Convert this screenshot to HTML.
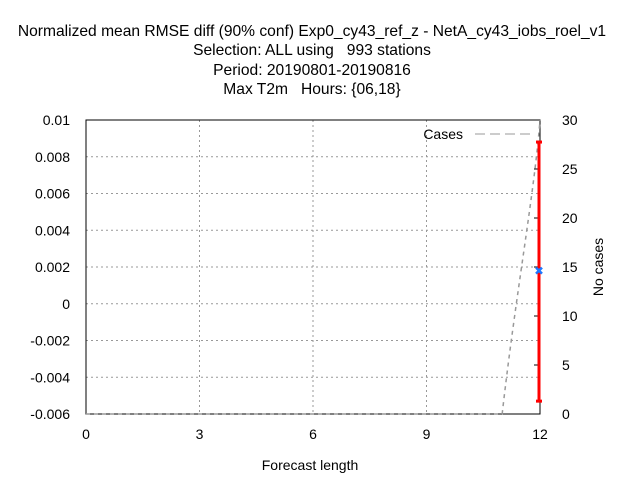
<!DOCTYPE html>
<html><head><meta charset="utf-8"><style>
body{margin:0;background:#fff;}
svg text{font-family:"Liberation Sans",sans-serif;font-size:14px;fill:#000;white-space:pre;}
#titles text{font-size:15.6px;}
</style></head><body>
<svg width="640" height="480">
<g id="titles" text-anchor="middle">
<text x="312" y="36">Normalized mean RMSE diff (90% conf) Exp0_cy43_ref_z - NetA_cy43_iobs_roel_v1</text>
<text x="312" y="55">Selection: ALL using   993 stations</text>
<text x="312" y="75">Period: 20190801-20190816</text>
<text x="312" y="94">Max T2m   Hours: {06,18}</text>
</g>
<g id="grid"></g>
<rect x="86" y="120" width="454" height="294" fill="none" stroke="#000"/>
<g id="axes"></g>
<g id="series"></g>
<text x="310" y="470" text-anchor="middle">Forecast length</text>
<text transform="translate(603,267) rotate(-90)" text-anchor="middle">No cases</text>
<text x="463" y="139" text-anchor="end">Cases</text>
<line x1="475" y1="134" x2="530" y2="134" stroke="#999" stroke-dasharray="10,5"/>
</svg>
<script>
const xTicks=[0,3,6,9,12];
const yTicks=[-0.006,-0.004,-0.002,0,0.002,0.004,0.006,0.008,0.01];
const yTickLabels=["-0.006","-0.004","-0.002","0","0.002","0.004","0.006","0.008","0.01"];
const y2Ticks=[0,5,10,15,20,25,30];
const caseHours=[0,1,2,3,4,5,6,7,8,9,10,11,12];
const caseCounts=[0,0,0,0,0,0,0,0,0,0,0,0,30];
const errHours=[12];
const errMean=[0.0018];
const errLow=[-0.0053];
const errHigh=[0.0088];
const X0=86,X1=540,Y0=414,Y1=120;
const sx=v=>X0+v/12*(X1-X0);
const sy=v=>Y0-(v+0.006)/0.016*(Y0-Y1);
const sy2=v=>Y0-v/30*(Y0-Y1);
const NS="http://www.w3.org/2000/svg";
function mk(tag,attrs,parent){const e=document.createElementNS(NS,tag);for(const k in attrs)e.setAttribute(k,attrs[k]);document.getElementById(parent).appendChild(e);return e;}
xTicks.forEach(t=>{
 const x=sx(t);
 if(t>0&&t<12){const g=mk('line',{x1:x,x2:x,y1:Y1,y2:Y0,stroke:'#999','stroke-dasharray':'2,3'},'grid');
 
 }
 const l=mk('text',{x:x,y:Y0+25,'text-anchor':'middle'},'axes');l.textContent=t;
 
 
});
yTicks.forEach((t,i)=>{
 const y=sy(t);
 if(i>0&&i<yTicks.length-1){const g=mk('line',{x1:X0,x2:X1,y1:y,y2:y,stroke:'#999','stroke-dasharray':'2,3'},'grid');
 
 }
 const l=mk('text',{x:X0-16,y:y+5,'text-anchor':'end'},'axes');l.textContent=yTickLabels[i];
 
 
});
y2Ticks.forEach(t=>{
 const y=sy2(t);
 const tk=mk('line',{x1:X1-6,x2:X1,y1:y,y2:y,stroke:'#000'},'axes');
 
 
 const l=mk('text',{x:X1+22,y:y+5,'text-anchor':'start'},'axes');l.textContent=t;
 
 
});
let d='M'+sx(caseHours[0])+','+sy2(caseCounts[0]);
for(let i=1;i<caseHours.length;i++){
 const xa=sx(caseHours[i-1]),ya=sy2(caseCounts[i-1]),xb=sx(caseHours[i]),yb=sy2(caseCounts[i]);
 if(ya===yb)d+=' L'+xb+','+yb;
 else d+=' C'+(xa+(xb-xa)*0.35)+','+(ya+(yb-ya)*0.4)+' '+(xb-(xb-xa)*0.15)+','+(yb+(ya-yb)*0.25)+' '+xb+','+yb;
}
const cl=mk('path',{d:d,fill:'none',stroke:'#999','stroke-width':1.5,'stroke-dasharray':'4,4'},'series');


errHours.forEach((h,i)=>{
 const x=sx(h)-1;
 const b=mk('line',{x1:x,x2:x,y1:sy(errHigh[i]),y2:sy(errLow[i]),stroke:'#f00','stroke-width':3},'series');
 
 
 [errHigh[i],errLow[i]].forEach(v=>{const c=mk('line',{x1:x-3,x2:x+3,y1:sy(v),y2:sy(v),stroke:'#f00','stroke-width':3},'series');
 
 });
 const ym=sy(errMean[i]);
 const m=mk('path',{d:`M${x-3},${ym-3}L${x+3},${ym+3}M${x-3},${ym+3}L${x+3},${ym-3}`,stroke:'#1e78ff','stroke-width':2.5},'series');
 
 
});
</script>
</body></html>
